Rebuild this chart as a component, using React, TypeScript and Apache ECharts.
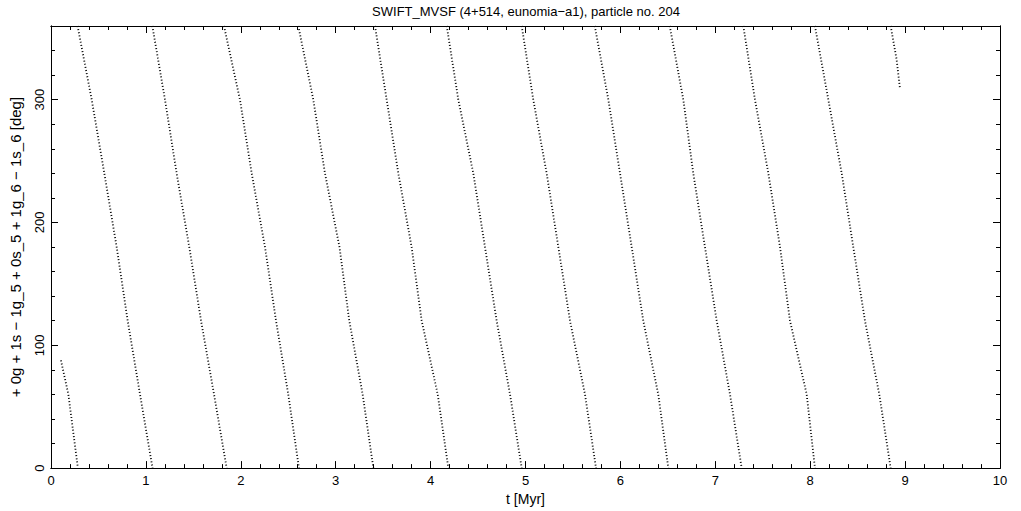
import React, { useEffect, useRef } from 'react';
import * as echarts from 'echarts';

// Angle levels (deg) at which the band positions were read
const degLevels = [360, 300, 240, 180, 120, 60, 0];

// Time (Myr) of each descending band at the angle levels above
const band1 = [0.28, 0.429, 0.562, 0.692, 0.808, 0.938, 1.07];
const band2 = [1.068, 1.201, 1.324, 1.457, 1.581, 1.718, 1.851];
const band3 = [1.823, 1.991, 2.115, 2.255, 2.371, 2.5, 2.613];
const band4 = [2.606, 2.764, 2.887, 3.04, 3.143, 3.284, 3.397];
const band5 = [3.414, 3.537, 3.66, 3.8, 3.906, 4.075, 4.187];
const band6 = [4.17, 4.292, 4.45, 4.573, 4.696, 4.837, 4.96];
const band7 = [4.96, 5.082, 5.223, 5.346, 5.469, 5.627, 5.743];
const band8 = [5.73, 5.873, 5.996, 6.119, 6.241, 6.399, 6.505];
const band9 = [6.52, 6.663, 6.768, 6.891, 7.015, 7.155, 7.278];
const band10 = [7.295, 7.418, 7.559, 7.682, 7.787, 7.963, 8.05];
const band11 = [8.05, 8.191, 8.332, 8.454, 8.577, 8.728, 8.848];

// Partial bands at the start and the end of the run
const firstBandT = [0.105, 0.183, 0.28];
const firstBandDeg = [87.7, 60, 2];
const lastBandT = [8.848, 8.91, 8.946];
const lastBandDeg = [360, 333, 309];

const xTicksMajor = 1;
const xTicksMinor = 0.2;
const yTicksMajor = 100;
const yTicksMinor = 20;

const titleText = 'SWIFT_MVSF (4+514, eunomia\u2212a1), particle no. 204';
const xName = 't [Myr]';
const yName = '+ 0g + 1s \u2212 1g_5 + 0s_5 + 1g_6 \u2212 1s_6 [deg]';

const FONT = 'Liberation Sans';

export default function App() {
  const ref = useRef<HTMLDivElement>(null);
  useEffect(() => {
    if (!ref.current) return;
    const chart = echarts.init(ref.current, undefined, { renderer: 'svg' });
    const fullBands = [band1, band2, band3, band4, band5, band6, band7, band8, band9, band10, band11];
    const lineStyle = { color: '#000', width: 1.8, type: [1, 2.2] as any };
    const series: any[] = fullBands.map((b) => ({
      type: 'line',
      data: b.map((t, i) => [t, degLevels[i]]),
      showSymbol: false,
      lineStyle,
      xAxisIndex: 0,
      yAxisIndex: 0,
      silent: true,
    }));
    series.push({
      type: 'line',
      data: firstBandT.map((t, i) => [t, firstBandDeg[i]]),
      showSymbol: false,
      lineStyle,
      silent: true,
    });
    series.push({
      type: 'line',
      data: lastBandT.map((t, i) => [t, lastBandDeg[i]]),
      showSymbol: false,
      lineStyle,
      silent: true,
    });

    const axLine = { onZero: false, lineStyle: { color: '#000', width: 1 } };
    const mkX = (pos: string, interval: number, len: number, labels: boolean, name?: string) => ({
      type: 'value',
      min: 0,
      max: 10,
      interval,
      position: pos,
      axisLine: axLine,
      axisTick: { inside: true, length: len, lineStyle: { color: '#000', width: 1 } },
      axisLabel: { show: labels, color: '#000', fontSize: 13, fontFamily: FONT, margin: 6 },
      splitLine: { show: false },
      name: name,
      nameLocation: 'middle',
      nameGap: 23,
      nameTextStyle: { color: '#000', fontSize: 14, fontFamily: FONT },
    });
    const mkY = (pos: string, interval: number, len: number, labels: boolean, name?: string) => ({
      type: 'value',
      min: 0,
      max: 360,
      interval,
      position: pos,
      axisLine: axLine,
      axisTick: { inside: true, length: len, lineStyle: { color: '#000', width: 1 } },
      axisLabel: {
        show: labels,
        color: '#000',
        fontSize: 13,
        fontFamily: FONT,
        rotate: 90,
        margin: 5,
        formatter: (v: number) => (v === 360 ? '' : String(v)),
      },
      splitLine: { show: false },
      name: name,
      nameLocation: 'middle',
      nameRotate: 90,
      nameGap: 28,
      nameTextStyle: { color: '#000', fontSize: 15, fontFamily: FONT },
    });

    chart.setOption({
      animation: false,
      backgroundColor: '#fff',
      grid: { left: 51, right: 21, top: 26, bottom: 37, containLabel: false },
      xAxis: [
        mkX('bottom', xTicksMajor, 7, true, xName),
        mkX('bottom', xTicksMinor, 4, false),
        mkX('top', xTicksMajor, 7, false),
        mkX('top', xTicksMinor, 4, false),
      ],
      yAxis: [
        mkY('left', yTicksMajor, 7, true, yName),
        mkY('left', yTicksMinor, 4, false),
        mkY('right', yTicksMajor, 7, false),
        mkY('right', yTicksMinor, 4, false),
      ],
      graphic: [
        {
          type: 'text',
          x: 526,
          y: 11,
          style: {
            text: titleText,
            fill: '#000',
            fontSize: 13,
            fontFamily: FONT,
            align: 'center',
            verticalAlign: 'middle',
          },
        },
      ],
      series,
    });
    return () => chart.dispose();
  }, []);
  return (
    <div
      ref={ref}
      style={{ position: 'absolute', left: 0, top: 0, width: 1021, height: 511, background: '#fff' }}
    />
  );
}
